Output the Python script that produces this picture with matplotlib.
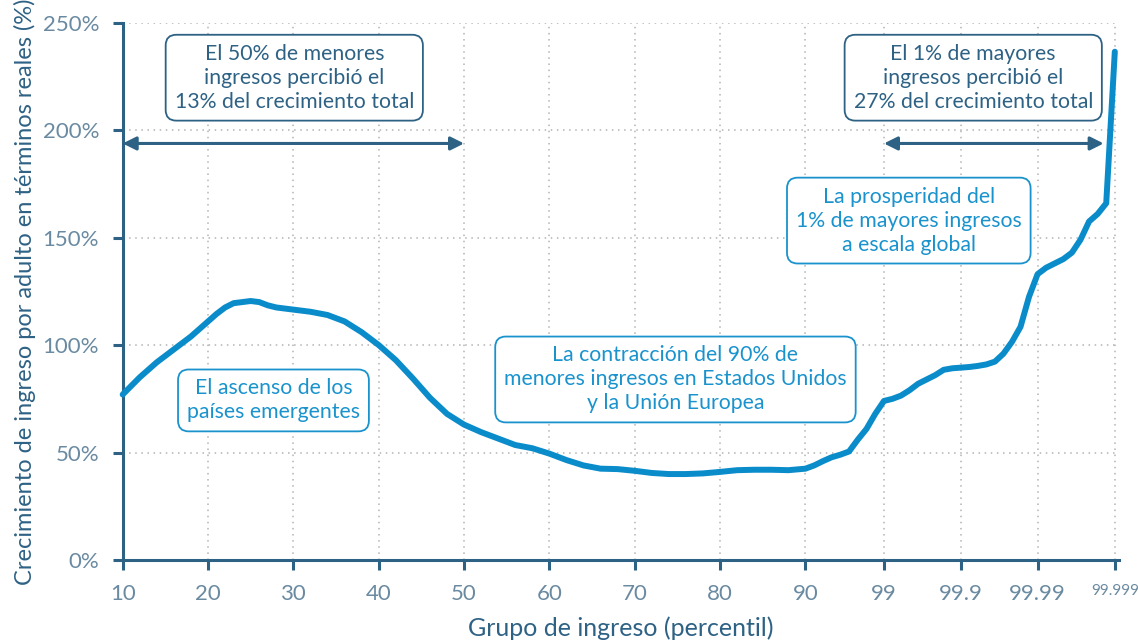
import numpy as np
import matplotlib
matplotlib.use("Agg")
import matplotlib.pyplot as plt

plt.rcParams["font.family"] = ["Lato", "DejaVu Sans"]

# income group (percentile) and real income growth per adult (%)
pct = [10, 12, 14, 16, 18, 20, 21, 22, 23, 24, 25, 26, 27, 28, 30, 32, 34, 36, 38, 40,
       42, 44, 46, 48, 50, 52, 54, 56, 58, 60, 62, 64, 66, 68, 70, 72, 74, 76, 78, 80,
       82, 84, 86, 88, 90, 91, 92, 93, 94, 95, 96, 97, 98, 99,
       99.1, 99.2, 99.3, 99.4, 99.5, 99.6, 99.7, 99.8, 99.9,
       99.91, 99.92, 99.93, 99.94, 99.95, 99.96, 99.97, 99.98, 99.99,
       99.991, 99.992, 99.993, 99.994, 99.995, 99.996, 99.997, 99.998, 99.999]
growth = [77, 85, 92, 98, 104, 111, 114.5, 117.5, 119.5, 120, 120.5, 120, 118.5, 117.5,
          116.5, 115.5, 114, 111, 106, 100, 93, 84.5, 75.5, 68, 63, 59.5, 56.5, 53.5,
          52, 49.5, 46.5, 44, 42.5, 42.3, 41.5, 40.5, 40, 40, 40.3, 41, 41.8, 42, 42,
          41.8, 42.5, 44, 46, 47.8, 49, 50.5, 56, 61, 68, 74,
          75, 76.5, 79, 82, 84, 86, 88.5, 89.2, 89.5,
          89.8, 90.3, 91, 92.3, 96, 101.5, 108.5, 122.5, 133,
          136, 138, 140, 143, 149, 157.5, 161, 166, 236.5]

tick_vals = [10, 20, 30, 40, 50, 60, 70, 80, 90, 99, 99.9, 99.99, 99.999]
tick_labels = ["10", "20", "30", "40", "50", "60", "70", "80", "90", "99", "99.9", "99.99", "99.999"]
tick_pos = [0, 1, 2, 3, 4, 5, 6, 7, 8, 8.92, 9.82, 10.72, 11.625]
y_ticks = [0, 50, 100, 150, 200, 250]

DARK = "#2e6285"
TICKC = "#6a8aa1"
CURVE = "#0b8cca"
LIGHT = "#1a93cd"

tv = np.array(tick_vals, float); tp = np.array(tick_pos, float)


def _pw(x, a, b):
    x = np.asarray(x, float)
    out = np.interp(x, a, b)
    out = np.where(x > a[-1], b[-1] + (x - a[-1]) * (b[-1] - b[-2]) / (a[-1] - a[-2]), out)
    out = np.where(x < a[0], b[0] + (x - a[0]) * (b[1] - b[0]) / (a[1] - a[0]), out)
    return out


fwd = lambda x: _pw(x, tv, tp)
inv = lambda x: _pw(x, tp, tv)

fig = plt.figure(figsize=(11.38, 6.44), dpi=100)
ax = fig.add_axes([0.1078, 0.1304, 0.8752, 0.8344])
ax.set_xscale("function", functions=(fwd, inv))

ax.plot(pct, growth, color=CURVE, lw=4.3, solid_joinstyle="round", solid_capstyle="round",
        zorder=3, clip_on=False)

ax.set_xlim(10, inv(11.67))
ax.set_ylim(0, 250)
ax.set_xticks(tick_vals)
ax.set_xticklabels(tick_labels)
ax.set_yticks(y_ticks)
ax.set_yticklabels([f"{v}%" for v in y_ticks])
for lab in ax.get_xticklabels() + ax.get_yticklabels():
    lab.set_fontsize(16)
ax.get_xticklabels()[-1].set_fontsize(11)

for s in ["top", "right"]:
    ax.spines[s].set_visible(False)
for s in ["left", "bottom"]:
    ax.spines[s].set_color(DARK); ax.spines[s].set_linewidth(2.2)
ax.tick_params(axis="both", direction="out", length=7, width=2.2, color=DARK,
               labelcolor=TICKC)
ax.tick_params(axis="x", pad=10)
ax.tick_params(axis="y", pad=10)
ax.grid(True, ls=(0, (1, 3)), color="#b3b3b3", lw=1.1, zorder=0)

ax.set_xlabel("Grupo de ingreso (percentil)", fontsize=18, color=DARK, labelpad=9)
ax.set_ylabel("Crecimiento de ingreso por adulto en términos reales (%)", fontsize=17,
              color=DARK, labelpad=5)

# annotation boxes
def box(x, y, txt, col):
    ax.text(x, y, txt, transform=ax.transAxes, ha="center", va="center", fontsize=15.3,
            color=col, linespacing=1.25, zorder=5,
            bbox=dict(boxstyle="round,pad=0.42,rounding_size=0.5", fc="white", ec=col, lw=1.3))

box(0.1723, 0.8976, "El 50% de menores\ningresos percibió el\n13% del crecimiento total", DARK)
box(0.854, 0.8976, "El 1% de mayores\ningresos percibió el\n27% del crecimiento total", DARK)
box(0.7893, 0.6317, "La prosperidad del\n1% de mayores ingresos\na escala global", LIGHT)
box(0.1514, 0.297, "El ascenso de los\npaíses emergentes", LIGHT)
box(0.555, 0.336, "La contracción del 90% de\nmenores ingresos en Estados Unidos\ny la Unión Europea", LIGHT)

arr = dict(arrowstyle="<|-|>", color=DARK, lw=2.2, mutation_scale=20, shrinkA=0, shrinkB=0)
ax.annotate("", xy=(50, 193.8), xytext=(10, 193.8), arrowprops=arr, zorder=4)
ax.annotate("", xy=(99.9977, 193.8), xytext=(99, 193.8), arrowprops=arr, zorder=4)

fig.savefig("out.png", dpi=100)
